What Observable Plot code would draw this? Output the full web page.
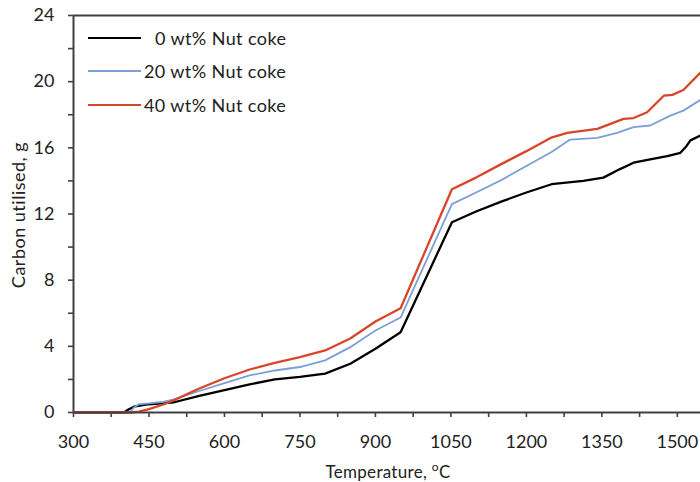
<!DOCTYPE html>
<html><head><meta charset="utf-8">
<script src="https://cdn.jsdelivr.net/npm/d3@7"></script>
<script src="https://cdn.jsdelivr.net/npm/@observablehq/plot@0.6"></script>
<style>
body{margin:0;background:#fff;}
#wrap{position:relative;width:700px;height:482px;font-family:Lato,"Open Sans",sans-serif;color:#222;}
.lg-line{position:absolute;left:88px;width:53px;height:2px;}
.lg-text{position:absolute;font-size:18px;letter-spacing:0.4px;line-height:20px;white-space:nowrap;}
#xt{position:absolute;left:0;width:776px;top:459px;text-align:center;font-size:17px;letter-spacing:0.3px;}
#yt{position:absolute;left:18px;top:215px;transform:translate(-50%,-50%) rotate(-90deg);font-size:18px;letter-spacing:0.5px;white-space:nowrap;}
</style></head>
<body><div id="wrap"></div>
<script>
const seriesNames = ["0 wt% Nut coke", "20 wt% Nut coke", "40 wt% Nut coke"];
const seriesColors = ["#000000", "#7b9fd6", "#d8462a"];

const tBlack = [300,400,410,420,450,500,550,600,650,700,750,800,850,900,950,1052,1100,1150,1200,1250,1313,1353,1385,1413,1446,1480,1506,1518,1526,1546];
const vBlack = [0,0,0.2,0.35,0.5,0.62,1.0,1.35,1.7,2.0,2.15,2.35,2.95,3.85,4.85,11.5,12.15,12.75,13.3,13.8,14.0,14.2,14.7,15.1,15.3,15.5,15.7,16.1,16.45,16.75];

const tBlue = [300,412,420,430,450,480,500,550,600,650,700,750,800,850,900,950,1052,1100,1150,1200,1250,1287,1341,1380,1413,1446,1486,1512,1546];
const vBlue = [0,0,0.3,0.5,0.55,0.65,0.8,1.3,1.77,2.24,2.54,2.75,3.15,3.95,4.96,5.74,12.6,13.3,14.05,14.9,15.75,16.5,16.6,16.9,17.25,17.35,17.95,18.25,18.9];

const tRed = [300,415,430,450,480,500,550,600,650,700,750,800,850,900,950,1052,1100,1149,1200,1248,1281,1341,1393,1413,1440,1473,1490,1512,1546];
const vRed = [0,0,0.05,0.2,0.5,0.75,1.45,2.07,2.6,3.0,3.35,3.75,4.47,5.5,6.3,13.5,14.2,15.0,15.8,16.6,16.9,17.15,17.75,17.8,18.15,19.15,19.2,19.5,20.55];

const xTicks = [300,375,450,525,600,675,750,825,900,975,1050,1125,1200,1275,1350,1425,1500];
const xLabeled = [300,450,600,750,900,1050,1200,1350,1500];
const yTicks = [0,2,4,6,8,10,12,14,16,18,20,22,24];
const yLabeled = [0,4,8,12,16,20,24];

const xTitle = "Temperature, ";
const yTitle = "Carbon utilised, g";

const rows = [];
[[tBlack,vBlack],[tBlue,vBlue],[tRed,vRed]].forEach(([ts,vs],i)=>{
  ts.forEach((t,j)=>rows.push({series:seriesNames[i], t, v:vs[j]}));
});

const axisColor = "#404040";
const chart = Plot.plot({
  width:700, height:482,
  marginLeft:73, marginRight:0, marginTop:15, marginBottom:70,
  style:{fontFamily:"Lato, 'Open Sans', sans-serif", fontSize:"18px", color:"#222", background:"transparent"},
  x:{domain:[300,1546]},
  y:{domain:[0,24]},
  color:{domain:seriesNames, range:seriesColors},
  marks:[
    Plot.axisX({ticks:xTicks, tickFormat:d=>xLabeled.includes(d)?String(d):"", tickSize:5, tickPadding:18, stroke:axisColor, strokeWidth:1.6, label:null, fill:"#222"}),
    Plot.axisY({ticks:yTicks, tickFormat:d=>yLabeled.includes(d)?String(d):"", tickSize:5, tickPadding:14, stroke:axisColor, strokeWidth:1.6, label:null, fill:"#222"}),
    Plot.ruleY([24], {stroke:axisColor, strokeWidth:2.2}),
    Plot.ruleX([300], {stroke:axisColor, strokeWidth:2}),
    Plot.line(rows, {x:"t", y:"v", z:"series", stroke:"series", strokeWidth:d=>d.series===seriesNames[1]?1.8:2.3}),
    Plot.ruleY([0], {stroke:axisColor, strokeWidth:2})
  ]
});

const wrap = document.getElementById("wrap");
wrap.appendChild(chart);

const legendY = [38, 71, 105];
const legendX = [155, 144, 144];
seriesNames.forEach((n,i)=>{
  const l = document.createElement("div");
  l.className="lg-line"; l.style.top=(legendY[i]-1)+"px"; l.style.background=seriesColors[i];
  wrap.appendChild(l);
  const t = document.createElement("div");
  t.className="lg-text"; t.style.left=legendX[i]+"px"; t.style.top=(legendY[i]-10)+"px";
  t.textContent=n;
  wrap.appendChild(t);
});
const xt = document.createElement("div");
xt.id="xt"; xt.innerHTML = xTitle + "<sup style='font-size:12px'>o</sup>C";
wrap.appendChild(xt);
const yt = document.createElement("div");
yt.id="yt"; yt.textContent = yTitle;
wrap.appendChild(yt);
</script>
</body></html>
